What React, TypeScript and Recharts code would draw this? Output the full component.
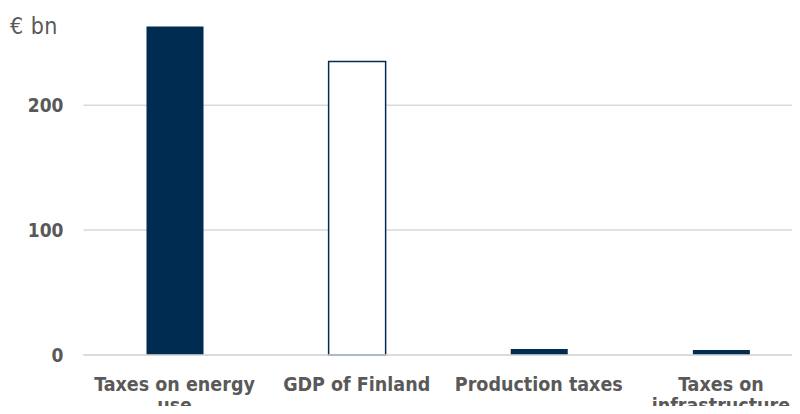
import React from "react";
import { BarChart, Bar, XAxis, YAxis, CartesianGrid, Cell } from "recharts";

const categories = ["Taxes on energy use", "GDP of Finland", "Production taxes", "Taxes on infrastructure"];
const values = [263, 235, 4.8, 4];
const outlined = [false, true, false, false];
const yTicks = [0, 100, 200];
const unitLabel = "€ bn";

const NAVY = "#002C52";
const GRAY = "#595959";
const FONT = "'DejaVu Sans Condensed', 'DejaVu Sans', sans-serif";

const data = categories.map((name, i) => ({ name, value: values[i] }));

function wrap(label: string, max: number): string[] {
  const words = label.split(" ");
  const lines: string[] = [];
  let cur = "";
  for (const w of words) {
    const next = cur ? cur + " " + w : w;
    if (next.length > max && cur) {
      lines.push(cur);
      cur = w;
    } else cur = next;
  }
  if (cur) lines.push(cur);
  return lines;
}

const XTick = (props: any) => {
  const { x, y, payload } = props;
  const lines = wrap(String(payload.value), 16);
  return (
    <text x={x} y={y} textAnchor="middle" fill={GRAY} fontFamily={FONT} fontWeight="bold" fontSize={19.5}>
      {lines.map((l, i) => (
        <tspan key={i} x={x} dy={i === 0 ? 36 : 21}>
          {l}
        </tspan>
      ))}
    </text>
  );
};

export default function App() {
  return (
    <div style={{ width: 800, height: 414, margin: -8, overflow: "hidden", position: "relative", background: "#fff" }}>
      <div
        style={{
          position: "absolute",
          left: 10,
          top: 13,
          fontFamily: FONT,
          fontSize: 23,
          letterSpacing: 0.5,
          color: GRAY,
          lineHeight: "26px",
        }}
      >
        {unitLabel}
      </div>
      <BarChart
        width={812}
        height={414}
        data={data}
        margin={{ top: 24, right: 0, bottom: 0, left: 0 }}
        barSize={57}
      >
        <CartesianGrid vertical={false} horizontalValues={yTicks} stroke="#D9D9D9" strokeWidth={1.5} />
        <XAxis
          dataKey="name"
          interval={0}
          height={59}
          axisLine={{ stroke: "#D9D9D9", strokeWidth: 1.5 }}
          tickLine={false}
          tickSize={0}
          tickMargin={0}
          tick={<XTick />}
        />
        <YAxis
          width={83.5}
          domain={[0, 265]}
          ticks={yTicks}
          axisLine={false}
          tickLine={false}
          tickSize={0}
          tickMargin={20}
          tick={{ fill: GRAY, fontFamily: FONT, fontWeight: "bold", fontSize: 19 }}
        />
        <Bar dataKey="value" isAnimationActive={false}>
          {data.map((d, i) => (
            <Cell
              key={d.name}
              fill={outlined[i] ? "#FFFFFF" : NAVY}
              stroke={outlined[i] ? NAVY : "none"}
              strokeWidth={outlined[i] ? 1.5 : 0}
            />
          ))}
        </Bar>
      </BarChart>
    </div>
  );
}
